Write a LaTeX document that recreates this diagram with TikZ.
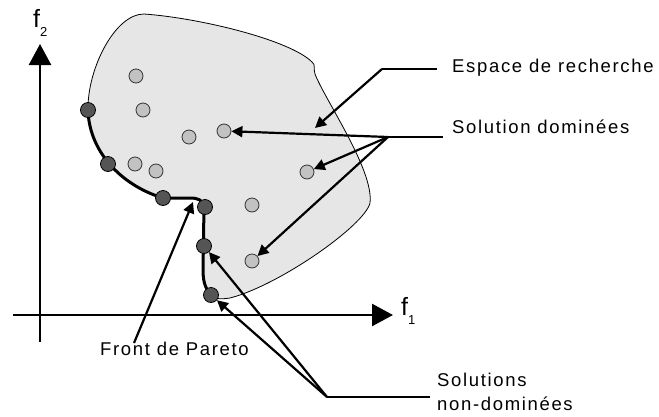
\documentclass[tikz,border=0pt]{standalone}
\usepackage{fontspec}
\setmainfont{Liberation Sans}
\newfontfamily\lab{Liberation Sans}[LetterSpace=9]
\usetikzlibrary{arrows.meta}
\definecolor{regionfill}{HTML}{E6E6E6}
\definecolor{lightdot}{HTML}{C2C2C2}
\definecolor{darkdot}{HTML}{555555}
\tikzset{
  axisline/.style={line width=2.5pt,-{Triangle[length=21pt,width=22pt]}},
  leader/.style={line width=2.2pt,-{Triangle[length=11pt,width=11pt]}},
  leaderplain/.style={line width=2.2pt},
  dom/.style={circle,draw=black!80,line width=0.8pt,fill=lightdot,minimum size=14pt,inner sep=0pt},
  nondom/.style={circle,draw=black,line width=0.8pt,fill=darkdot,minimum size=15pt,inner sep=0pt},
  labeltext/.style={font=\lab\fontsize{18.5}{22}\selectfont,inner sep=0pt,anchor=base west},
  axislabel/.style={inner sep=0pt,anchor=base west}
}
\begin{document}
\begin{tikzpicture}[x=1pt,y=-1pt]
\useasboundingbox (0,0) rectangle (659,416);
% search space
\draw[line width=0.8pt,fill=regionfill]
  (211,295) .. controls (216,300) and (222,299) .. (230,298)
  .. controls (280,285) and (365,225) .. (370,203)
  .. controls (374,170) and (325,100) .. (315,74)
  .. controls (313,68) and (316,65) .. (312,62)
  .. controls (290,40) and (200,18) .. (144,14)
  .. controls (115,14) and (88,68) .. (88,108)
  .. controls (88,150) and (120,185) .. (163,198)
  -- (190,198) .. controls (198,198) and (203,200) .. (204,207)
  -- (203,270) .. controls (203,285) and (207,290) .. (211,295) -- cycle;
% Pareto front
\draw[line width=3pt]
  (88,108) .. controls (88,150) and (120,185) .. (163,198)
  -- (190,198) .. controls (198,198) and (203,200) .. (204,207)
  -- (203,270) .. controls (203,285) and (207,290) .. (211,295);
% axes
\coordinate (xs) at (13,315);
\coordinate (xe) at (393,315);
\coordinate (ys) at (40,342);
\coordinate (ye) at (40,44);
\draw[axisline] (xs) -- (xe);
\draw[axisline] (ys) -- (ye);
\node[axislabel] (f1) at (401,315) {\fontsize{25}{25}\selectfont f\raisebox{-9pt}{\fontsize{13}{13}\selectfont 1}};
\node[axislabel] (f2) at (33,27) {\fontsize{25}{25}\selectfont f\raisebox{-9pt}{\fontsize{13}{13}\selectfont 2}};
% dominated solutions
\node[dom] (d1) at (136,76) {};
\node[dom] (d2) at (143,110) {};
\node[dom] (d3) at (189,137) {};
\node[dom] (d4) at (224,131) {};
\node[dom] (d5) at (135,164) {};
\node[dom] (d6) at (156,171) {};
\node[dom] (d7) at (307,172) {};
\node[dom] (d8) at (252,205) {};
\node[dom] (d9) at (252,261) {};
% non-dominated solutions
\node[nondom] (n1) at (88,110) {};
\node[nondom] (n2) at (108,164) {};
\node[nondom] (n3) at (163,198) {};
\node[nondom] (n4) at (205,207) {};
\node[nondom] (n5) at (204,246) {};
\node[nondom] (n6) at (211,295) {};
% labels
\node[labeltext] (esp) at (452,72) {Espace de recherche};
\node[labeltext] (sdom) at (452,133) {Solution dominées};
\node[labeltext] (front) at (100,355) {Front de Pareto};
\node[labeltext] (snd1) at (437,386) {Solutions};
\node[labeltext] (snd2) at (437,410) {non-dominées};
% leader coordinates
\coordinate (espEnd) at (437,69);
\coordinate (espJ) at (382,69);
\coordinate (espTip) at (315,128);
\coordinate (domEnd) at (443,137);
\coordinate (domJ) at (388,137);
\coordinate (frTail) at (134,343);
\coordinate (frTip) at (193,202);
\coordinate (ndEnd) at (430,397);
\coordinate (ndJ) at (327,397);
% leaders
\draw[leaderplain] (espEnd) -- (espJ);
\draw[leader] (espJ) -- (espTip);
\draw[leaderplain] (domEnd) -- (domJ);
\draw[leader] (domJ) -- (d4);
\draw[leader] (domJ) -- (d7);
\draw[leader] (domJ) -- (d9);
\draw[leader] (frTail) -- (frTip);
\draw[leaderplain] (ndEnd) -- (ndJ);
\draw[leader] (ndJ) -- (n6);
\draw[leader] (ndJ) -- (n5);
\end{tikzpicture}
\end{document}
